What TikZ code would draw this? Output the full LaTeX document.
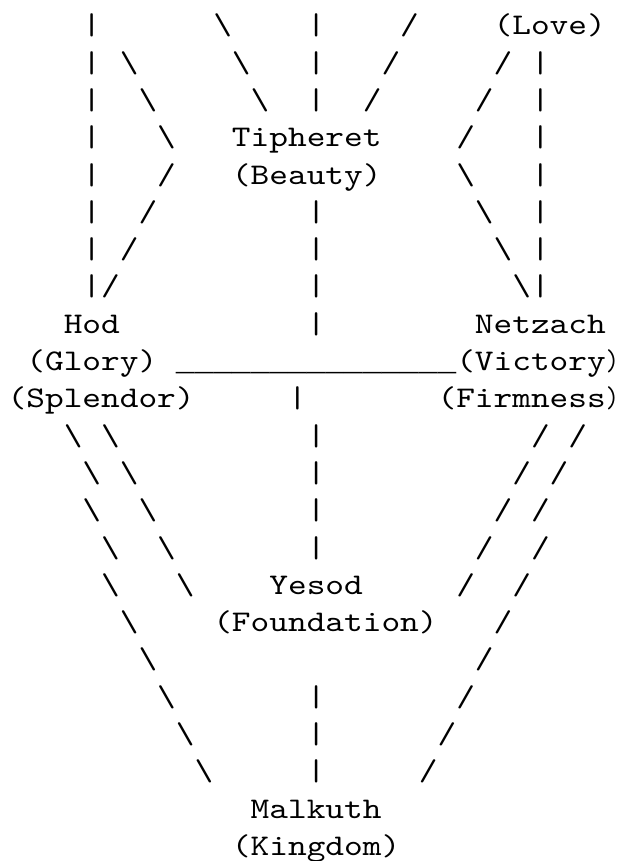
\documentclass[tikz,border=0pt]{standalone}
\usepackage{fontspec}
\newfontfamily\treemono{lmmono10-regular}[Extension=.otf,FakeStretch=1.1867]
\newfontfamily\linemono{Liberation Mono}
\newcommand\asc[3]{\node[ascii] (r#1c#2) at ({5.775+#2*14.018},{-26.1-#1*27.975}) {#3};}
\newcommand\tbs{\textbackslash}
\newcommand\edgeparen{{\addfontfeature{FakeStretch=0.83})}}
\begin{document}
\begin{tikzpicture}[x=1pt,y=1pt,
  ascii/.style={inner sep=0pt,outer sep=0pt,anchor=base west,text=black,
    font=\treemono\fontsize{22.5pt}{27pt}\selectfont},
  rule/.style={ascii,font=\linemono\fontsize{23.36pt}{27pt}\selectfont}]
\fill[white] (0,0) rectangle (465,-645.75);
\useasboundingbox (0,0) rectangle (465,-645.75);
% row 0
\asc{0}{4}{|}\asc{0}{11}{\tbs}\asc{0}{16}{|}\asc{0}{21}{/}\asc{0}{26}{(Love)}
% row 1
\asc{1}{4}{|}\asc{1}{6}{\tbs}\asc{1}{12}{\tbs}\asc{1}{16}{|}\asc{1}{20}{/}\asc{1}{26}{/}\asc{1}{28}{|}
% row 2
\asc{2}{4}{|}\asc{2}{7}{\tbs}\asc{2}{13}{\tbs}\asc{2}{16}{|}\asc{2}{19}{/}\asc{2}{25}{/}\asc{2}{28}{|}
% row 3
\asc{3}{4}{|}\asc{3}{8}{\tbs}\asc{3}{12}{Tipheret}\asc{3}{24}{/}\asc{3}{28}{|}
% row 4
\asc{4}{4}{|}\asc{4}{8}{/}\asc{4}{12}{(Beauty)}\asc{4}{24}{\tbs}\asc{4}{28}{|}
% row 5
\asc{5}{4}{|}\asc{5}{7}{/}\asc{5}{16}{|}\asc{5}{25}{\tbs}\asc{5}{28}{|}
% row 6
\asc{6}{4}{|}\asc{6}{6}{/}\asc{6}{16}{|}\asc{6}{26}{\tbs}\asc{6}{28}{|}
% row 7
\asc{7}{4}{|}\asc{7}{5}{/}\asc{7}{16}{|}\asc{7}{27}{\tbs}\asc{7}{28}{|}
% row 8
\asc{8}{3}{Hod}\asc{8}{16}{|}\asc{8}{25}{Netzach}
% row 9
\asc{9}{1}{(Glory)}
\node[rule] (r9c9) at ({5.775+9*14.018},{-26.1-9*27.975}) {\_\_\_\_\_\_\_\_\_\_\_\_\_\_\_};
\asc{9}{24}{(Victory\edgeparen}
% row 10
\asc{10}{0}{(Splendor)}\asc{10}{15}{|}\asc{10}{23}{(Firmness\edgeparen}
% row 11
\asc{11}{3}{\tbs}\asc{11}{5}{\tbs}\asc{11}{16}{|}\asc{11}{28}{/}\asc{11}{30}{/}
% row 12
\asc{12}{4}{\tbs}\asc{12}{6}{\tbs}\asc{12}{16}{|}\asc{12}{27}{/}\asc{12}{29}{/}
% row 13
\asc{13}{4}{\tbs}\asc{13}{7}{\tbs}\asc{13}{16}{|}\asc{13}{26}{/}\asc{13}{28}{/}
% row 14
\asc{14}{5}{\tbs}\asc{14}{8}{\tbs}\asc{14}{16}{|}\asc{14}{25}{/}\asc{14}{28}{/}
% row 15
\asc{15}{5}{\tbs}\asc{15}{9}{\tbs}\asc{15}{14}{Yesod}\asc{15}{24}{/}\asc{15}{27}{/}
% row 16
\asc{16}{6}{\tbs}\asc{16}{11}{(Foundation)}\asc{16}{26}{/}
% row 17
\asc{17}{7}{\tbs}\asc{17}{25}{/}
% row 18
\asc{18}{8}{\tbs}\asc{18}{16}{|}\asc{18}{24}{/}
% row 19
\asc{19}{9}{\tbs}\asc{19}{16}{|}\asc{19}{23}{/}
% row 20
\asc{20}{10}{\tbs}\asc{20}{16}{|}\asc{20}{22}{/}
% row 21
\asc{21}{13}{Malkuth}
% row 22
\asc{22}{12}{(Kingdom)}
\end{tikzpicture}
\end{document}
